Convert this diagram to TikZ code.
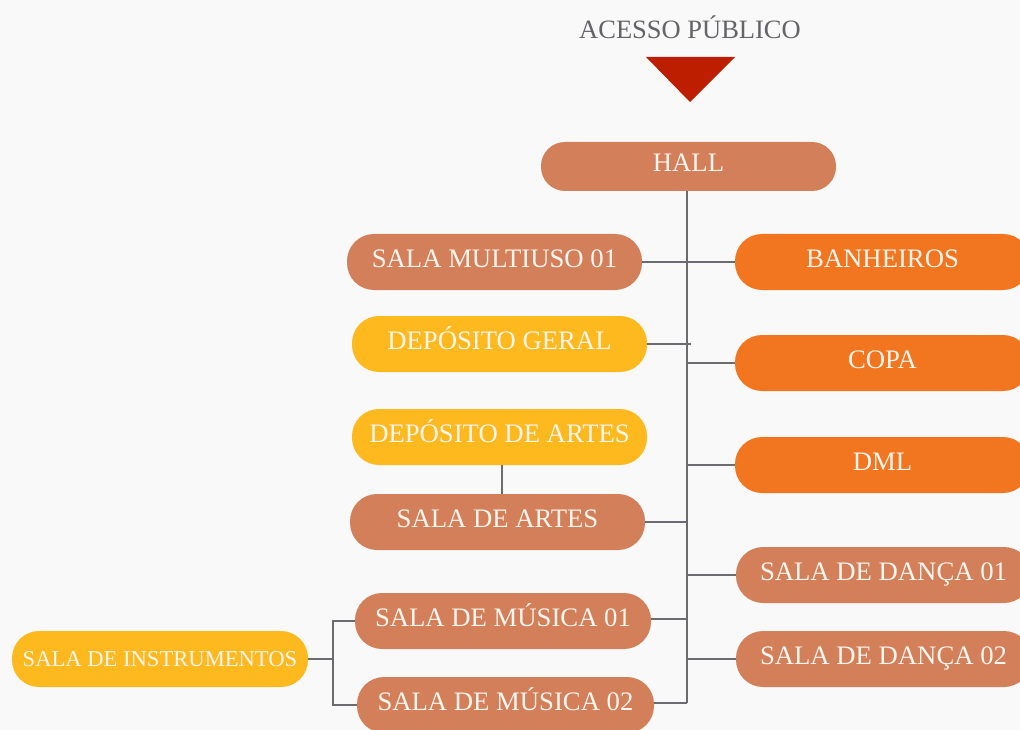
\documentclass[tikz,border=0pt]{standalone}
\usepackage{fontspec}
\setmainfont{Liberation Serif}
\definecolor{bg}{RGB}{249,249,249}
\definecolor{salmon}{RGB}{211,128,90}
\definecolor{gold}{RGB}{253,185,30}
\definecolor{orng}{RGB}{242,118,32}
\definecolor{txt}{RGB}{253,245,238}
\definecolor{linec}{RGB}{107,107,112}
\definecolor{arrowred}{RGB}{190,30,0}
\definecolor{titlec}{RGB}{100,100,104}
\begin{document}
\begin{tikzpicture}[x=1pt,y=-1pt,
  room/.style={rectangle,rounded corners=27pt,minimum width=295pt,minimum height=56pt,inner sep=0pt,
    text=txt,font=\fontsize{26.7}{30}\selectfont,text height=18pt,text depth=8pt},
  sal/.style={room,fill=salmon},
  yel/.style={room,fill=gold},
  ora/.style={room,fill=orng},
  conn/.style={draw=linec,line width=1.9pt}]
\clip (0,0) rectangle (1020,730);
\fill[bg] (0,0) rectangle (1020,730);
\node[text=titlec,font=\fontsize{26.5}{30}\selectfont,inner sep=0pt] (title) at (690,27) {ACESSO PÚBLICO};
\fill[arrowred] (646,57) -- (735,57) -- (690,102) -- cycle;
\node[sal,minimum height=49pt,rounded corners=24pt] (hall) at (688.5,166.5) {HALL};
\node[sal] (multi) at (494.5,262) {SALA MULTIUSO 01};
\node[yel] (dg) at (499.5,344) {DEPÓSITO GERAL};
\node[yel] (da) at (499.5,437) {DEPÓSITO DE ARTES};
\node[sal] (sa) at (497.5,522) {SALA DE ARTES};
\node[sal,minimum width=296pt] (m1) at (503,621) {SALA DE MÚSICA 01};
\node[sal,minimum width=297pt] (m2) at (505.5,705) {SALA DE MÚSICA 02};
\node[yel,minimum width=296pt,font=\fontsize{22.6}{26}\selectfont,text height=15pt,text depth=1pt] (inst) at (160,659) {SALA DE INSTRUMENTOS};
\node[ora] (ban) at (882.5,262) {BANHEIROS};
\node[ora] (copa) at (882.5,363) {COPA};
\node[ora] (dml) at (882.5,465) {DML};
\node[sal] (d1) at (883.5,575) {SALA DE DANÇA 01};
\node[sal] (d2) at (883.5,659) {SALA DE DANÇA 02};
\coordinate (tx) at (687,191);
\draw[conn] (hall.south -| tx) -- ([yshift=2pt]tx |- m2.east);
\draw[conn] (multi.east) -- (ban.west);
\draw[conn] (dg.east) -- ([xshift=4pt]tx |- dg.east);
\draw[conn] (tx |- copa.west) -- (copa.west);
\draw[conn] (tx |- dml.west) -- (dml.west);
\draw[conn] (sa.east) -- (tx |- sa.east);
\draw[conn] (tx |- d1.west) -- (d1.west);
\draw[conn] ([yshift=2pt]m1.east) -- ([yshift=2pt]tx |- m1.east);
\draw[conn] (tx |- d2.west) -- (d2.west);
\draw[conn] ([yshift=2pt]m2.east) -- ([yshift=2pt]tx |- m2.east);
\draw[conn] ([xshift=2.5pt]da.south) -- ([xshift=2.5pt]da.south |- sa.north);
\draw[conn] (inst.east) -- ++(25,0) coordinate (ij);
\draw[conn] (m1.west) -| (ij) |- (m2.west);
\end{tikzpicture}
\end{document}
